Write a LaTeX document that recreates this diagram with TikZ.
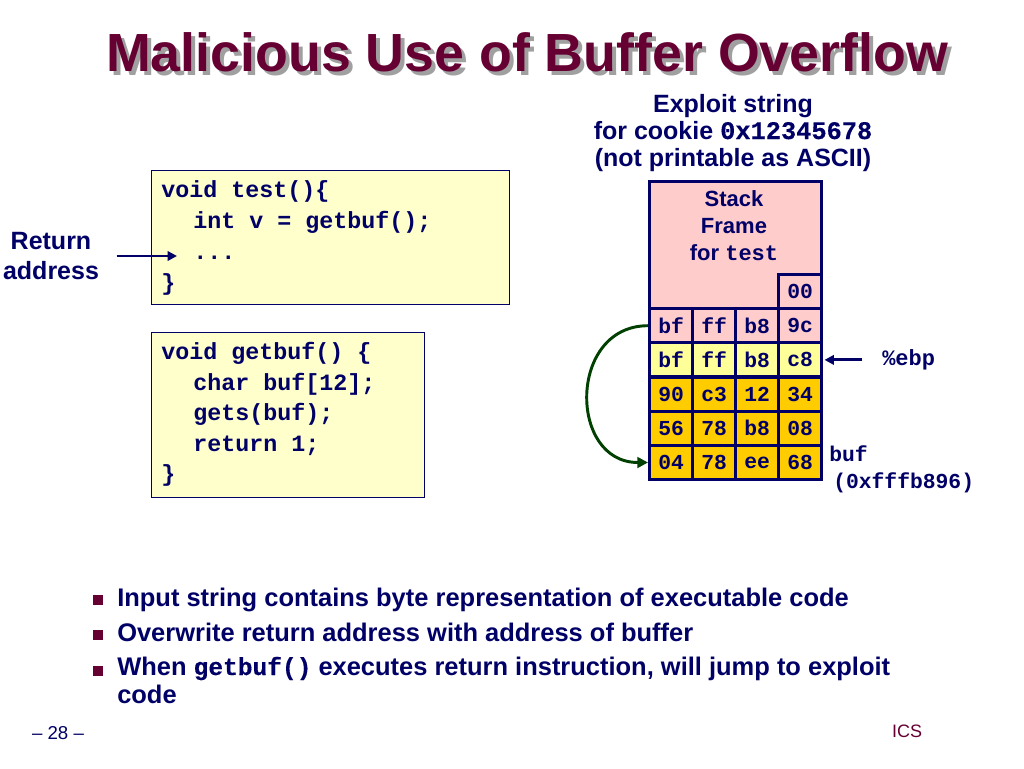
\documentclass[tikz,border=0pt]{standalone}
\usepackage{fontspec}
\setmainfont{Liberation Sans}
\setmonofont{Liberation Mono}
\newfontfamily\medmono{Liberation Mono}[FakeBold=0.4]
\usetikzlibrary{arrows.meta}
\definecolor{navy}{RGB}{0,0,102}
\definecolor{maroon}{RGB}{102,0,51}
\definecolor{pinkc}{RGB}{255,204,204}
\definecolor{ylw}{RGB}{255,255,153}
\definecolor{orng}{RGB}{255,204,0}
\definecolor{codebg}{RGB}{255,255,204}
\definecolor{dgreen}{RGB}{0,64,0}
\definecolor{shadowgray}{RGB}{160,160,160}
\newcommand{\shadowtitle}[1]{\rlap{\hspace{3pt}\raisebox{-3pt}{\textcolor{shadowgray}{#1}}}#1}
\begin{document}
\begin{tikzpicture}[x=0.75pt,y=-0.75pt,
  sans/.style={font=\fontsize{18.75}{22.5}\selectfont\bfseries, text=navy, inner sep=0pt},
  codeline/.style={font=\fontsize{17.5}{21}\selectfont\ttfamily\bfseries, text=navy, inner sep=0pt, anchor=base west},
  cell/.style={draw=navy, line width=2.4pt, minimum width=32.25pt, minimum height=25.65pt, inner sep=0pt,
    font=\fontsize{16}{16}\selectfont\ttfamily\bfseries, text=navy, anchor=north west},
  codebox/.style={draw=navy, fill=codebg, line width=1.1pt, inner sep=0pt, anchor=north west},
  arr/.style={draw=navy, line width=2.2pt, -{Triangle[length=7pt,width=7pt]}},
  garr/.style={draw=dgreen, line width=2.2pt, -{Triangle[length=8pt,width=8pt]}},
  bullet/.style={fill=maroon, minimum size=7.5pt, inner sep=0pt},
  btext/.style={sans, font=\fontsize{19.1}{23}\selectfont\bfseries, anchor=base west}
]
\useasboundingbox (0,0) rectangle (1024,768);
\fill[white] (0,0) rectangle (1024,768);

% title
\node[anchor=base, text=maroon, font=\fontsize{40.3}{48}\selectfont\bfseries, inner sep=0pt] (title) at (527,71) {\shadowtitle{Malicious Use of Buffer Overflow}};

% exploit string caption
\node[sans, anchor=base] (ex1) at (733,112) {Exploit string};
\node[sans, anchor=base] (ex2) at (733,139) {for cookie {\fontsize{19}{22}\selectfont\medmono 0x12345678}};
\node[sans, anchor=base] (ex3) at (733,166) {(not printable as ASCII)};

% code boxes
\node[codebox, minimum width=268.5pt, minimum height=100.5pt] (box1) at (151,170) {};
\node[codeline] (c1a) at (161,197) {void test()\{};
\node[codeline] (c1b) at (193,228) {int v = getbuf();};
\node[codeline] (c1c) at (193,259) {...};
\node[codeline] (c1d) at (161,290) {\}};

\node[codebox, minimum width=204.75pt, minimum height=123.75pt] (box2) at (151,332) {};
\node[codeline] (c2a) at (161,359) {void getbuf() \{};
\node[codeline] (c2b) at (193,390) {char buf[12];};
\node[codeline] (c2c) at (193,420) {gets(buf);};
\node[codeline] (c2d) at (193,451) {return 1;};
\node[codeline] (c2e) at (161,481) {\}};

% return address
\node[sans, align=center] (ret) at (51,256) {Return\\address};
\coordinate (retend) at (177,256);
\draw[arr, shorten <=13pt] (ret.east |- retend) -- (retend);

% stack frame
\node[draw=navy, line width=2.4pt, fill=pinkc, minimum width=129pt, minimum height=95.25pt, inner sep=0pt, anchor=north west] (frame) at (648,180) {};
\node[sans, font=\fontsize{16.5}{20.25}\selectfont\bfseries, align=center] (frametext) at (734,226) {Stack\\Frame\\for {\ttfamily test}};
\node[cell, fill=pinkc] (top) at (777,273) {00};

\node[cell, fill=pinkc] (r0c0) at (648,307) {bf};
\node[cell, fill=pinkc] (r0c1) at (691,307) {ff};
\node[cell, fill=pinkc] (r0c2) at (734,307) {b8};
\node[cell, fill=pinkc] (r0c3) at (777,307) {9c};

\node[cell, fill=ylw] (r1c0) at (648,341.2) {bf};
\node[cell, fill=ylw] (r1c1) at (691,341.2) {ff};
\node[cell, fill=ylw] (r1c2) at (734,341.2) {b8};
\node[cell, fill=ylw] (r1c3) at (777,341.2) {c8};

\node[cell, fill=orng] (r2c0) at (648,375.4) {90};
\node[cell, fill=orng] (r2c1) at (691,375.4) {c3};
\node[cell, fill=orng] (r2c2) at (734,375.4) {12};
\node[cell, fill=orng] (r2c3) at (777,375.4) {34};

\node[cell, fill=orng] (r3c0) at (648,409.6) {56};
\node[cell, fill=orng] (r3c1) at (691,409.6) {78};
\node[cell, fill=orng] (r3c2) at (734,409.6) {b8};
\node[cell, fill=orng] (r3c3) at (777,409.6) {08};

\node[cell, fill=orng] (r4c0) at (648,443.8) {04};
\node[cell, fill=orng] (r4c1) at (691,443.8) {78};
\node[cell, fill=orng] (r4c2) at (734,443.8) {ee};
\node[cell, fill=orng] (r4c3) at (777,443.8) {68};

% %ebp
\node[font=\fontsize{16.5}{20}\selectfont\ttfamily\bfseries, text=navy, inner sep=0pt, anchor=base west] (ebp) at (882,365) {\%ebp};
\draw[arr, shorten <=15pt, shorten >=1pt] (ebp.west |- r1c3.east) -- (r1c3.east);

% buf
\node[font=\fontsize{16}{20}\selectfont\ttfamily\bfseries, text=navy, inner sep=0pt, anchor=base west] (buf) at (829,461) {buf};
\node[font=\fontsize{16}{20}\selectfont\ttfamily\bfseries, text=navy, inner sep=0pt, anchor=base west] (bufaddr) at (833,488) {(0xfffb896)};

% green jump arrow
\draw[garr] (r0c0.west) .. controls +(-80,0) and +(-80,0) .. (r4c0.west);

% bullets
\node[bullet] (b1) at (98,600) {};
\node[bullet] (b2) at (98,635) {};
\node[bullet] (b3) at (98,671) {};
\node[btext] (t1) at (117,606) {Input string contains byte representation of executable code};
\node[btext] (t2) at (117,641) {Overwrite return address with address of buffer};
\node[btext] (t3) at (117,675) {When {\fontsize{18.4}{22}\selectfont\medmono getbuf()} executes return instruction, will jump to exploit};
\node[btext] (t4) at (117,703) {code};

% footer
\node[text=navy, font=\fontsize{14}{16}\selectfont, inner sep=0pt] (pagenum) at (58,733) {– 28 –};
\node[text=maroon, font=\fontsize{13.5}{16}\selectfont, inner sep=0pt] (ics) at (907,731) {ICS};
\end{tikzpicture}
\end{document}
